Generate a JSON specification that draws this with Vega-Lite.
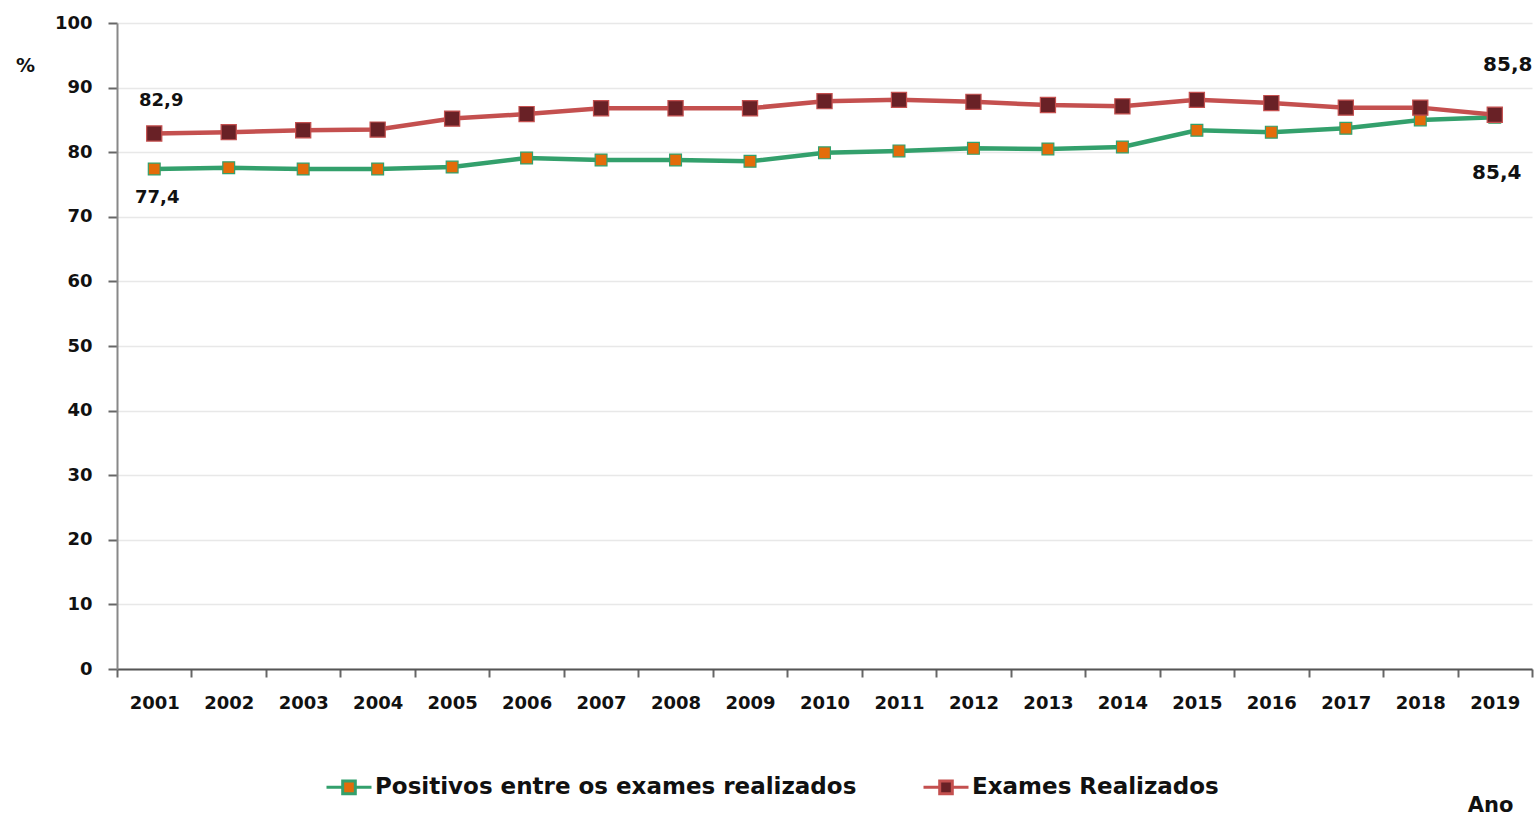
{
  "$schema": "https://vega.github.io/schema/vega-lite/v6.json",
  "autosize": {"type": "none"},
  "padding": {"left": 117, "top": 23, "right": 6, "bottom": 148},
  "width": 1415,
  "height": 646,
  "background": "white",
  "data": {"values": [
    {"ano": "2001", "serie": "Positivos entre os exames realizados", "valor": 77.4, "rotulo": "77,4"},
    {"ano": "2002", "serie": "Positivos entre os exames realizados", "valor": 77.6},
    {"ano": "2003", "serie": "Positivos entre os exames realizados", "valor": 77.4},
    {"ano": "2004", "serie": "Positivos entre os exames realizados", "valor": 77.4},
    {"ano": "2005", "serie": "Positivos entre os exames realizados", "valor": 77.7},
    {"ano": "2006", "serie": "Positivos entre os exames realizados", "valor": 79.1},
    {"ano": "2007", "serie": "Positivos entre os exames realizados", "valor": 78.8},
    {"ano": "2008", "serie": "Positivos entre os exames realizados", "valor": 78.8},
    {"ano": "2009", "serie": "Positivos entre os exames realizados", "valor": 78.6},
    {"ano": "2010", "serie": "Positivos entre os exames realizados", "valor": 79.9},
    {"ano": "2011", "serie": "Positivos entre os exames realizados", "valor": 80.2},
    {"ano": "2012", "serie": "Positivos entre os exames realizados", "valor": 80.6},
    {"ano": "2013", "serie": "Positivos entre os exames realizados", "valor": 80.5},
    {"ano": "2014", "serie": "Positivos entre os exames realizados", "valor": 80.8},
    {"ano": "2015", "serie": "Positivos entre os exames realizados", "valor": 83.4},
    {"ano": "2016", "serie": "Positivos entre os exames realizados", "valor": 83.1},
    {"ano": "2017", "serie": "Positivos entre os exames realizados", "valor": 83.7},
    {"ano": "2018", "serie": "Positivos entre os exames realizados", "valor": 85.0},
    {"ano": "2019", "serie": "Positivos entre os exames realizados", "valor": 85.4, "rotulo": "85,4"},
    {"ano": "2001", "serie": "Exames Realizados", "valor": 82.9, "rotulo": "82,9"},
    {"ano": "2002", "serie": "Exames Realizados", "valor": 83.1},
    {"ano": "2003", "serie": "Exames Realizados", "valor": 83.4},
    {"ano": "2004", "serie": "Exames Realizados", "valor": 83.5},
    {"ano": "2005", "serie": "Exames Realizados", "valor": 85.2},
    {"ano": "2006", "serie": "Exames Realizados", "valor": 85.9},
    {"ano": "2007", "serie": "Exames Realizados", "valor": 86.8},
    {"ano": "2008", "serie": "Exames Realizados", "valor": 86.8},
    {"ano": "2009", "serie": "Exames Realizados", "valor": 86.8},
    {"ano": "2010", "serie": "Exames Realizados", "valor": 87.9},
    {"ano": "2011", "serie": "Exames Realizados", "valor": 88.1},
    {"ano": "2012", "serie": "Exames Realizados", "valor": 87.8},
    {"ano": "2013", "serie": "Exames Realizados", "valor": 87.3},
    {"ano": "2014", "serie": "Exames Realizados", "valor": 87.1},
    {"ano": "2015", "serie": "Exames Realizados", "valor": 88.1},
    {"ano": "2016", "serie": "Exames Realizados", "valor": 87.6},
    {"ano": "2017", "serie": "Exames Realizados", "valor": 86.9},
    {"ano": "2018", "serie": "Exames Realizados", "valor": 86.9},
    {"ano": "2019", "serie": "Exames Realizados", "valor": 85.8, "rotulo": "85,8"}
  ]},
  "encoding": {
    "x": {
      "field": "ano", "type": "ordinal",
      "scale": {"type": "band", "paddingInner": 0, "paddingOuter": 0},
      "axis": {
        "title": "Ano", "titleX": 1373, "titleY": 136, "titleAlign": "center", "titleBaseline": "middle",
        "titleFont": "DejaVu Sans", "titleFontSize": 21, "titleFontWeight": "bold", "titleColor": "#111",
        "labelAngle": 0, "labelFont": "DejaVu Sans", "labelFontSize": 18, "labelFontWeight": "bold", "labelColor": "#111",
        "labelPadding": 17, "tickBand": "extent", "tickSize": 8, "tickColor": "#666", "tickWidth": 2,
        "domainColor": "#555", "domainWidth": 2, "grid": false
      }
    },
    "y": {
      "field": "valor", "type": "quantitative",
      "scale": {"domain": [0, 100], "nice": false},
      "axis": {
        "values": [0, 10, 20, 30, 40, 50, 60, 70, 80, 90, 100],
        "title": "%", "titleAngle": 0, "titleX": -92, "titleY": 42, "titleAlign": "center", "titleBaseline": "middle",
        "titleFont": "DejaVu Sans", "titleFontSize": 19, "titleFontWeight": "bold", "titleColor": "#111",
        "labelFont": "DejaVu Sans", "labelFontSize": 18, "labelFontWeight": "bold", "labelColor": "#111",
        "labelPadding": 16, "tickSize": 9, "tickColor": "#666", "tickWidth": 2,
        "domainColor": "#888", "domainWidth": 2, "gridColor": "#E8E8E8", "gridWidth": 1.5
      }
    },
    "fill": {
      "field": "serie", "type": "nominal",
      "scale": {"domain": ["Positivos entre os exames realizados", "Exames Realizados"], "range": ["#E36C0A", "#692126"]},
      "legend": {
        "title": null, "orient": "none", "direction": "horizontal", "legendX": 208, "legendY": 740,
        "symbolType": "M-1,0H-0.28M0.28,0H1M-0.28,-0.28H0.28V0.28H-0.28Z", "symbolSize": 2025, "symbolStrokeWidth": 3,
        "labelFont": "DejaVu Sans", "labelFontSize": 23, "labelFontWeight": "bold", "labelColor": "#111",
        "labelOffset": 2, "columnPadding": 60, "labelLimit": 1000
      }
    },
    "stroke": {
      "field": "serie", "type": "nominal",
      "scale": {"domain": ["Positivos entre os exames realizados", "Exames Realizados"], "range": ["#33A06C", "#C4504F"]},
      "legend": {
        "title": null, "orient": "none", "direction": "horizontal", "legendX": 208, "legendY": 740,
        "symbolType": "M-1,0H-0.28M0.28,0H1M-0.28,-0.28H0.28V0.28H-0.28Z", "symbolSize": 2025, "symbolStrokeWidth": 3,
        "labelFont": "DejaVu Sans", "labelFontSize": 23, "labelFontWeight": "bold", "labelColor": "#111",
        "labelOffset": 2, "columnPadding": 60, "labelLimit": 1000
      }
    }
  },
  "layer": [
    {
      "mark": {"type": "line", "strokeWidth": 4.5, "strokeCap": "round", "fill": null},
      "encoding": {"fill": {"value": null}, "detail": {"field": "serie"}}
    },
    {
      "transform": [{"filter": "datum.serie == 'Positivos entre os exames realizados'"}],
      "mark": {"type": "point", "shape": "square", "filled": true, "strokeWidth": 1.2, "opacity": 1, "size": 140}
    },
    {
      "transform": [{"filter": "datum.serie == 'Exames Realizados'"}],
      "mark": {"type": "point", "shape": "square", "filled": true, "strokeWidth": 1.2, "opacity": 1, "size": 230}
    },
    {
      "transform": [{"filter": "datum.ano == '2001' && datum.serie == 'Exames Realizados'"}],
      "mark": {"type": "text", "dy": -32, "dx": 7, "font": "DejaVu Sans", "fontSize": 18, "fontWeight": "bold", "color": "#111"},
      "encoding": {"text": {"field": "rotulo"}, "fill": {"value": "#111"}, "stroke": {"value": null}}
    },
    {
      "transform": [{"filter": "datum.ano == '2001' && datum.serie == 'Positivos entre os exames realizados'"}],
      "mark": {"type": "text", "dy": 29, "dx": 3, "font": "DejaVu Sans", "fontSize": 18, "fontWeight": "bold", "color": "#111"},
      "encoding": {"text": {"field": "rotulo"}, "fill": {"value": "#111"}, "stroke": {"value": null}}
    },
    {
      "transform": [{"filter": "datum.ano == '2019' && datum.serie == 'Exames Realizados'"}],
      "mark": {"type": "text", "dy": -50, "dx": 13, "font": "DejaVu Sans", "fontSize": 20, "fontWeight": "bold", "color": "#111"},
      "encoding": {"text": {"field": "rotulo"}, "fill": {"value": "#111"}, "stroke": {"value": null}}
    },
    {
      "transform": [{"filter": "datum.ano == '2019' && datum.serie == 'Positivos entre os exames realizados'"}],
      "mark": {"type": "text", "dy": 56, "dx": 2, "font": "DejaVu Sans", "fontSize": 20, "fontWeight": "bold", "color": "#111"},
      "encoding": {"text": {"field": "rotulo"}, "fill": {"value": "#111"}, "stroke": {"value": null}}
    }
  ],
  "config": {"view": {"stroke": null}}
}
